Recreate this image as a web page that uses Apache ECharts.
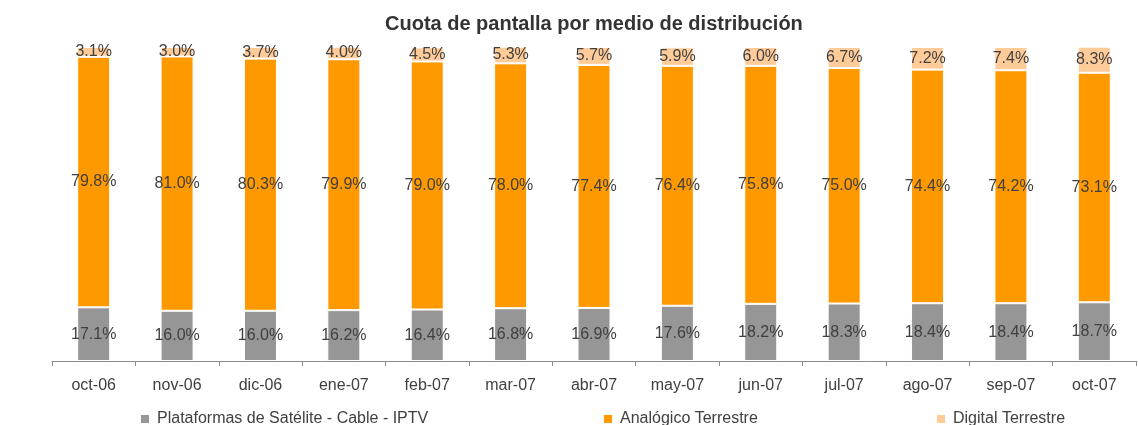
<!DOCTYPE html>
<html>
<head>
<meta charset="utf-8">
<script src="https://cdn.jsdelivr.net/npm/echarts@6/dist/echarts.min.js"></script>
<style>
	html, body { margin: 0; padding: 0; background: #fff; }
	#chart { width: 1138px; height: 425px; }
</style>
</head>
<body>
<div id="chart"></div>
<script>
var months = ['oct-06', 'nov-06', 'dic-06', 'ene-07', 'feb-07', 'mar-07', 'abr-07', 'may-07', 'jun-07', 'jul-07', 'ago-07', 'sep-07', 'oct-07'];
var satCableIptv = [17.1, 16.0, 16.0, 16.2, 16.4, 16.8, 16.9, 17.6, 18.2, 18.3, 18.4, 18.4, 18.7];
var analogico = [79.8, 81.0, 80.3, 79.9, 79.0, 78.0, 77.4, 76.4, 75.8, 75.0, 74.4, 74.2, 73.1];
var digital = [3.1, 3.0, 3.7, 4.0, 4.5, 5.3, 5.7, 5.9, 6.0, 6.7, 7.2, 7.4, 8.3];

var names = ['Plataformas de Satélite - Cable - IPTV', 'Analógico Terrestre', 'Digital Terrestre'];
var colors = ['#969696', '#ff9900', '#ffcc99'];

var txt = '#404040';
var font = '"Liberation Sans", Arial, sans-serif';

var chart = echarts.init(document.getElementById('chart'));

function barSeries(i, values) {
	return {
		name: names[i],
		type: 'bar',
		stack: 'total',
		barWidth: 33,
		data: values,
		itemStyle: {
			color: colors[i],
			borderColor: '#fff',
			borderWidth: 1
		},
		label: {
			show: true,
			position: 'inside',
			color: txt,
			fontFamily: font,
			fontSize: 16,
			formatter: function(p) { return p.value.toFixed(1) + '%'; }
		}
	};
}

// una leyenda por serie para colocarlas donde estan en el original
function legendAt(i, left) {
	return {
		data: [{ name: names[i], icon: 'rect', itemStyle: { borderWidth: 0 } }],
		left: left,
		top: 406,
		itemWidth: 8,
		itemHeight: 8,
		itemGap: 0,
		textStyle: { color: txt, fontFamily: font, fontSize: 16, padding: [0, 0, 0, 3] }
	};
}

var option = {
	animation: false,
	title: {
		text: 'Cuota de pantalla por medio de distribución',
		left: 380,
		top: 9,
		textStyle: { color: '#333', fontFamily: font, fontSize: 20, fontWeight: 'bold' }
	},
	legend: [legendAt(0, 136), legendAt(1, 599), legendAt(2, 932)],
	grid: { left: 52, right: 2, top: 47, bottom: 64 },
	xAxis: {
		type: 'category',
		data: months,
		axisLine: { lineStyle: { color: '#8c8c8c' } },
		axisTick: { show: true, length: 5, lineStyle: { color: '#8c8c8c' } },
		axisLabel: { color: txt, fontFamily: font, fontSize: 16, margin: 17 }
	},
	yAxis: {
		type: 'value',
		min: 0,
		max: 100,
		show: false
	},
	series: [
		barSeries(0, satCableIptv),
		barSeries(1, analogico),
		barSeries(2, digital)
	]
};

chart.setOption(option);
</script>
</body>
</html>
